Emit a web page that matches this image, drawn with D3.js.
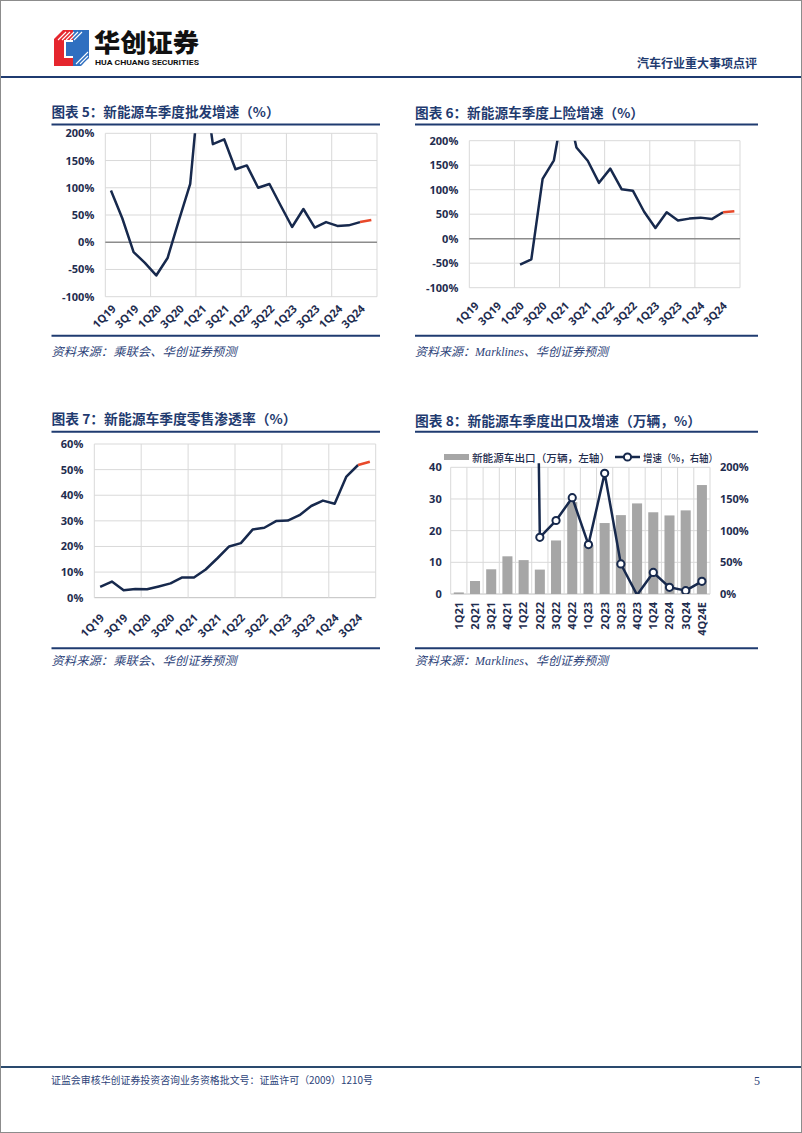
<!DOCTYPE html>
<html><head><meta charset="utf-8">
<script src="https://cdn.jsdelivr.net/npm/d3@7"></script>
<style>
html,body{margin:0;padding:0;background:#fff;}
svg{display:block;}
</style></head><body>
<svg id="page" width="802" height="1133"></svg>
<script>
// ---------------- DATA ----------------
const quarters = ['1Q19','2Q19','3Q19','4Q19','1Q20','2Q20','3Q20','4Q20',
  '1Q21','2Q21','3Q21','4Q21','1Q22','2Q22','3Q22','4Q22',
  '1Q23','2Q23','3Q23','4Q23','1Q24','2Q24','3Q24','4Q24'];
const wholesaleGrowth = [95, 44, -18, -38, -61, -29, 40, 107,
  330, 180, 189, 134, 141, 100, 107, 67,
  28, 61, 27, 37, 30, 31, 37, 41];
const insuranceGrowth = [null, null, null, null, -53, -42, 122, 160,
  290, 186, 159, 114, 143, 101, 98, 55,
  22, 54, 37, 41, 43, 40, 54, 56];
const retailPenetration = [4.2, 6.3, 2.9, 3.4, 3.3, 4.4, 5.6, 7.9,
  7.9, 11.0, 15.4, 20.0, 21.3, 26.6, 27.3, 29.9,
  30.1, 32.2, 35.8, 37.9, 36.7, 47.3, 51.8, 53.1];
const growthTicks = [-100, -50, 0, 50, 100, 150, 200];
const penetrationTicks = [0, 10, 20, 30, 40, 50, 60];
const forecastFrom = '3Q24';

const exportQuarters = ['1Q21','2Q21','3Q21','4Q21','1Q22','2Q22','3Q22','4Q22',
  '1Q23','2Q23','3Q23','4Q23','1Q24','2Q24','3Q24','4Q24E'];
const exportVolume = [0.5, 4.1, 7.8, 11.9, 10.7, 7.7, 16.9, 29.0,
  15.5, 22.4, 24.9, 28.6, 25.8, 24.8, 26.4, 34.4];
const exportGrowth = [null, null, null, null, 2000, 89.5, 116, 152,
  78, 190.5, 47.4, -1.5, 34, 10.5, 5.3, 20];
const exportTicksLeft = [0, 10, 20, 30, 40];
const exportTicksRight = [0, 50, 100, 150, 200];

// ---------------- STYLE ----------------
const NAVY = '#17294d';
const TITLE = '#1f3b70';
const RED = '#e8492a';
const GRID = '#d9d9d9';
const LABEL = '#1f2d4f';
const SANS = "'Open Sans','Noto Sans CJK SC',sans-serif";
const CJK = "'Noto Sans CJK SC','Noto Sans',sans-serif";

const svg = d3.select('#page');

// page border
svg.append('rect').attr('x',0.5).attr('y',0.5).attr('width',801).attr('height',1132)
  .attr('fill','none').attr('stroke','#8c8c8c');

// ---------------- HEADER ----------------
const logo = svg.append('g');
logo.append('polygon').attr('points','54,39 63,30 73,30 73,66 54,66').attr('fill','#e5262e');
logo.append('polygon').attr('points','73,30 89,30 89,58 81,66 73,66').attr('fill','#2f6fc0');
const stripes = logo.append('g').attr('stroke','#fff').attr('stroke-width',1.1);
[0,4,8,12,16].forEach(k=>{
  stripes.append('line').attr('x1',58+k).attr('y1',40).attr('x2',66+k).attr('y2',32);
});
[0,4,8,12].forEach(k=>{
  stripes.append('line').attr('x1',76+k).attr('y1',64).attr('x2',88).attr('y2',52+k);
});
logo.append('rect').attr('x',64).attr('y',40).attr('width',9).attr('height',18).attr('fill','#fff');
logo.append('rect').attr('x',66).attr('y',42).attr('width',7).attr('height',14).attr('fill','#2f6fc0');

svg.append('text').attr('x',94).attr('y',52).text('华创证券')
  .attr('font-family',CJK).attr('font-weight',900).attr('font-size',25)
  .attr('textLength',105).attr('lengthAdjust','spacingAndGlyphs').attr('fill','#111');
svg.append('text').attr('x',95).attr('y',65).text('HUA CHUANG SECURITIES')
  .attr('font-family',"'Roboto','Open Sans',sans-serif").attr('font-weight',700).attr('font-size',8)
  .attr('textLength',104).attr('lengthAdjust','spacingAndGlyphs').attr('fill','#111');
svg.append('text').attr('x',757).attr('y',68).attr('text-anchor','end').text('汽车行业重大事项点评')
  .attr('font-family',CJK).attr('font-weight',700).attr('font-size',12).attr('fill',TITLE);
svg.append('line').attr('x1',1).attr('x2',801).attr('y1',77).attr('y2',77)
  .attr('stroke',TITLE).attr('stroke-width',2.2);

// ---------------- FOOTER ----------------
svg.append('line').attr('x1',1).attr('x2',801).attr('y1',1067).attr('y2',1067)
  .attr('stroke','#2a4a6e').attr('stroke-width',2);
svg.append('text').attr('x',51).attr('y',1084).text('证监会审核华创证券投资咨询业务资格批文号：证监许可（2009）1210号')
  .attr('font-family',CJK).attr('font-size',10).attr('fill','#2d4379')
  .attr('textLength',322).attr('lengthAdjust','spacingAndGlyphs');
svg.append('text').attr('x',754).attr('y',1085).text('5')
  .attr('font-family',"'Liberation Serif',serif").attr('font-size',12).attr('fill','#2d4379');

// ---------------- PANEL FRAME ----------------
function frame(o){
  svg.append('text').attr('x',o.x0).attr('y',o.ty).attr('dominant-baseline','central')
    .text(o.title).attr('font-family',CJK).attr('font-weight',700).attr('font-size',13.5)
    .attr('fill',TITLE).attr('textLength',o.tw).attr('lengthAdjust','spacingAndGlyphs');
  svg.append('line').attr('x1',o.x0).attr('x2',o.x1).attr('y1',o.l1).attr('y2',o.l1)
    .attr('stroke',TITLE).attr('stroke-width',2);
  svg.append('line').attr('x1',o.x0).attr('x2',o.x1).attr('y1',o.l2).attr('y2',o.l2)
    .attr('stroke',TITLE).attr('stroke-width',2);
  svg.append('text').attr('x',o.x0).attr('y',o.sy).attr('dominant-baseline','central')
    .text(o.source).attr('font-family',"'Liberation Serif','Noto Sans CJK SC',serif").attr('font-style','italic')
    .attr('font-size',12).attr('fill','#2d4379').attr('textLength',o.sw).attr('lengthAdjust','spacingAndGlyphs');
}

let clipN = 0;
function addClip(x,y,w,h){
  const id = 'clip'+(clipN++);
  svg.append('clipPath').attr('id',id).append('rect').attr('x',x).attr('y',y).attr('width',w).attr('height',h);
  return 'url(#'+id+')';
}

function styleAxisText(sel){
  sel.attr('font-family',SANS).attr('font-size',11).attr('font-weight',700).attr('fill',LABEL);
}

// ---------------- LINE CHART ----------------
function lineChart(o){
  const g = svg.append('g');
  const x = d3.scaleBand().domain(o.cats).range([o.x0,o.x1]);
  const bw = x.bandwidth();
  const cx = c => x(c) + bw/2;
  const y = d3.scaleLinear().domain([o.ticks[0], o.ticks[o.ticks.length-1]]).range([o.y1,o.y0]);
  const hasNeg = o.ticks[0] < 0;

  g.append('g').selectAll('line').data(o.ticks.filter(t=>!(hasNeg && t===0))).join('line')
    .attr('x1',o.x0).attr('x2',o.x1).attr('y1',d=>y(d)).attr('y2',d=>y(d))
    .attr('stroke', d => (!hasNeg && d===0) ? '#bfbfbf' : GRID).attr('stroke-width',1);
  const vx = o.cats.filter((d,i)=>i%4===0).map(d=>x(d)).concat([o.x1]);
  g.append('g').selectAll('line').data(vx).join('line')
    .attr('x1',d=>d).attr('x2',d=>d).attr('y1',o.y0).attr('y2',o.y1)
    .attr('stroke',GRID).attr('stroke-width',1);
  if (hasNeg) {
    g.append('line').attr('x1',o.x0).attr('x2',o.x1).attr('y1',y(0)).attr('y2',y(0))
      .attr('stroke','#8c8c8c').attr('stroke-width',1.4);
  }

  const pts = o.cats.map((c,i)=>({c, v:o.values[i], i}));
  const fi = o.cats.indexOf(forecastFrom);
  const line = d3.line().defined(d=>d.v!=null).x(d=>cx(d.c)).y(d=>y(d.v));
  const clip = addClip(o.x0, o.y0, o.x1-o.x0, o.y1-o.y0);
  const lg = g.append('g').attr('clip-path',clip);
  lg.append('path').attr('d',line(pts.filter(d=>d.i<=fi))).attr('fill','none')
    .attr('stroke',NAVY).attr('stroke-width',2.5).attr('stroke-linejoin','round');
  lg.append('path').attr('d',line(pts.filter(d=>d.i>=fi))).attr('fill','none')
    .attr('stroke',RED).attr('stroke-width',2.5).attr('stroke-linejoin','round');

  const ya = d3.axisLeft(y).tickValues(o.ticks).tickFormat(d=>d+'%').tickSize(0).tickPadding(11);
  g.append('g').attr('transform',`translate(${o.x0},0)`).call(ya)
    .call(s=>s.select('.domain').remove())
    .selectAll('text').call(styleAxisText);

  const xa = d3.axisBottom(x).tickValues(o.cats.filter((d,i)=>i%2===0)).tickSize(0);
  g.append('g').attr('transform',`translate(0,${o.y1})`).call(xa)
    .call(s=>s.select('.domain').remove())
    .selectAll('text').call(styleAxisText)
    .attr('x',0).attr('y',0).attr('dy','0.35em').attr('text-anchor','end')
    .attr('transform',`translate(${o.lx},${o.ly}) rotate(-45)`);
}

// ---------------- PANELS ----------------
frame({x0:51.5, x1:380, ty:110.5, tw:228, l1:124.5, l2:335.7, sy:351.5, sw:185,
  title:'图表 5：新能源车季度批发增速（%）', source:'资料来源：乘联会、华创证券预测'});
lineChart({cats:quarters, values:wholesaleGrowth, ticks:growthTicks,
  x0:105.3, x1:377, y0:133.3, y1:296.7, lx:3, ly:10});

frame({x0:415, x1:758, ty:112, tw:229, l1:124.5, l2:335.7, sy:351.7, sw:193,
  title:'图表 6：新能源车季度上险增速（%）', source:'资料来源：Marklines、华创证券预测'});
lineChart({cats:quarters, values:insuranceGrowth, ticks:growthTicks,
  x0:469.3, x1:740, y0:140.7, y1:287.7, lx:2, ly:16});

frame({x0:51.5, x1:380, ty:418, tw:245, l1:431.7, l2:648.3, sy:660.5, sw:185,
  title:'图表 7：新能源车季度零售渗透率（%）', source:'资料来源：乘联会、华创证券预测'});
lineChart({cats:quarters, values:retailPenetration, ticks:penetrationTicks,
  x0:94.3, x1:375.7, y0:444, y1:597.7, lx:2, ly:18});

frame({x0:415, x1:758, ty:420, tw:286, l1:431.7, l2:648.3, sy:661, sw:193,
  title:'图表 8：新能源车季度出口及增速（万辆，%）', source:'资料来源：Marklines、华创证券预测'});

// ---------------- COMBO CHART ----------------
(function(){
  const o = {x0:450.7, x1:710, y0:467.3, y1:594};
  const g = svg.append('g');
  const x = d3.scaleBand().domain(exportQuarters).range([o.x0,o.x1]);
  const bw = x.bandwidth();
  const cx = c => x(c) + bw/2;
  const yl = d3.scaleLinear().domain([0,40]).range([o.y1,o.y0]);
  const yr = d3.scaleLinear().domain([0,200]).range([o.y1,o.y0]);

  g.append('g').selectAll('line').data(exportTicksLeft).join('line')
    .attr('x1',o.x0).attr('x2',o.x1).attr('y1',d=>yl(d)).attr('y2',d=>yl(d))
    .attr('stroke',d=>d===0?'#bfbfbf':GRID);
  const vx = exportQuarters.map(d=>x(d)).concat([o.x1]);
  g.append('g').selectAll('line').data(vx).join('line')
    .attr('x1',d=>d).attr('x2',d=>d).attr('y1',o.y0).attr('y2',o.y1).attr('stroke',GRID);

  g.append('g').selectAll('rect').data(exportQuarters).join('rect')
    .attr('x',d=>x(d)+bw*0.19).attr('width',bw*0.62)
    .attr('y',(d,i)=>yl(exportVolume[i])).attr('height',(d,i)=>o.y1-yl(exportVolume[i]))
    .attr('fill','#a6a6a6');

  const pts = exportQuarters.map((c,i)=>({c, v:exportGrowth[i]}));
  const line = d3.line().defined(d=>d.v!=null).x(d=>cx(d.c)).y(d=>yr(d.v));
  const clip = addClip(o.x0, o.y0-4, o.x1-o.x0, o.y1-o.y0+4);
  const lg = g.append('g').attr('clip-path',clip);
  lg.append('path').attr('d',line(pts)).attr('fill','none')
    .attr('stroke',NAVY).attr('stroke-width',2.5).attr('stroke-linejoin','round');
  lg.selectAll('circle').data(pts.filter(d=>d.v!=null && d.v>=0 && d.v<=200)).join('circle')
    .attr('cx',d=>cx(d.c)).attr('cy',d=>yr(d.v)).attr('r',3.6)
    .attr('fill','#fff').attr('stroke',NAVY).attr('stroke-width',2);

  const yla = d3.axisLeft(yl).tickValues(exportTicksLeft).tickSize(0).tickPadding(9);
  g.append('g').attr('transform',`translate(${o.x0},0)`).call(yla)
    .call(s=>s.select('.domain').remove()).selectAll('text').call(styleAxisText);
  const yra = d3.axisRight(yr).tickValues(exportTicksRight).tickFormat(d=>d+'%').tickSize(0).tickPadding(10);
  g.append('g').attr('transform',`translate(${o.x1},0)`).call(yra)
    .call(s=>s.select('.domain').remove()).selectAll('text').call(styleAxisText);
  const xa = d3.axisBottom(x).tickSize(0);
  g.append('g').attr('transform',`translate(0,${o.y1})`).call(xa)
    .call(s=>s.select('.domain').remove())
    .selectAll('text').call(styleAxisText)
    .attr('x',0).attr('y',0).attr('dy','0.35em').attr('text-anchor','end')
    .attr('transform','translate(0,8) rotate(-90)');

  // legend
  const ly = 457;
  g.append('rect').attr('x',444).attr('y',ly-3).attr('width',25).attr('height',6).attr('fill','#a6a6a6');
  g.append('text').attr('x',472).attr('y',ly).attr('dominant-baseline','central')
    .text('新能源车出口（万辆，左轴）').attr('font-family',CJK).attr('font-size',10.5)
    .attr('font-weight',500).attr('fill',LABEL)
    .attr('textLength',138).attr('lengthAdjust','spacingAndGlyphs');
  g.append('line').attr('x1',615).attr('x2',640).attr('y1',ly).attr('y2',ly)
    .attr('stroke',NAVY).attr('stroke-width',2.5);
  g.append('circle').attr('cx',627.5).attr('cy',ly).attr('r',3.6)
    .attr('fill','#fff').attr('stroke',NAVY).attr('stroke-width',2);
  g.append('text').attr('x',643).attr('y',ly).attr('dominant-baseline','central')
    .text('增速（%，右轴）').attr('font-family',CJK).attr('font-size',10.5)
    .attr('font-weight',500).attr('fill',LABEL)
    .attr('textLength',75).attr('lengthAdjust','spacingAndGlyphs');
})();
</script>
</body></html>
